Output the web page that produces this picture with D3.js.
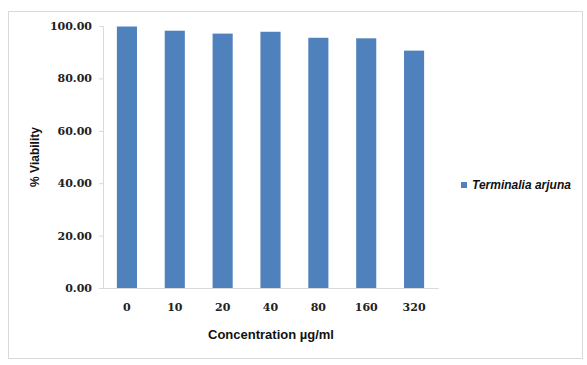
<!DOCTYPE html>
<html>
<head>
<meta charset="utf-8">
<script src="https://cdnjs.cloudflare.com/ajax/libs/d3/7.8.5/d3.min.js"></script>
<style>
  body { margin: 0; background: #fff; }
  .chart { width: 587px; height: 365px; }
  .axis path, .axis line { stroke: #d9d9d9; }
  .axis--y text, .axis--x text { font-family: "DejaVu Serif", serif; font-weight: bold; font-size: 11px; fill: #222; }
</style>
</head>
<body>
<div class="chart"></div>
<script>
// Data
var concentrations = ["0", "10", "20", "40", "80", "160", "320"];
var viability = [99.8, 98.2, 97.1, 97.8, 95.5, 95.3, 90.6];
var yTicks = [0, 20, 40, 60, 80, 100];
var seriesName = "Terminalia arjuna";

var W = 587, H = 365;
var margin = {top: 26, left: 103, right: 149, bottom: 77};
var width = W - margin.left - margin.right,
    height = H - margin.top - margin.bottom;

var svg = d3.select(".chart").append("svg")
    .attr("width", W)
    .attr("height", H);

// Outer frame
svg.append("rect")
    .attr("x", 8.5).attr("y", 11.5)
    .attr("width", 574).attr("height", 347)
    .attr("fill", "none")
    .attr("stroke", "#d9d9d9");

var g = svg.append("g")
    .attr("transform", "translate(" + margin.left + "," + margin.top + ")");

var x = d3.scaleBand()
    .domain(concentrations)
    .range([0, width])
    .paddingInner(0.58)
    .paddingOuter(0.29);

var y = d3.scaleLinear()
    .domain([0, 100])
    .range([height, 0]);

// Bars
g.selectAll(".bar")
    .data(viability)
    .enter().append("rect")
    .attr("class", "bar")
    .attr("x", function(d, i) { return x(concentrations[i]); })
    .attr("y", function(d) { return y(d); })
    .attr("width", x.bandwidth())
    .attr("height", function(d) { return height - y(d); })
    .attr("fill", "#4f81bd");

// Y axis
g.append("g")
    .attr("class", "axis axis--y")
    .call(d3.axisLeft(y)
        .tickValues(yTicks)
        .tickSize(4)
        .tickPadding(7)
        .tickFormat(d3.format(".2f")));

// X axis
g.append("g")
    .attr("class", "axis axis--x")
    .attr("transform", "translate(0," + height + ")")
    .call(d3.axisBottom(x).tickSize(0).tickPadding(15));

// Axis titles
svg.append("text")
    .attr("x", 271)
    .attr("y", 339)
    .attr("text-anchor", "middle")
    .style("font-family", "'Liberation Sans', Arial, sans-serif")
    .style("font-weight", "bold")
    .style("font-size", "13px")
    .style("fill", "#111")
    .text("Concentration µg/ml");

svg.append("text")
    .attr("transform", "translate(39,157) rotate(-90)")
    .attr("text-anchor", "middle")
    .style("font-family", "'Liberation Sans', Arial, sans-serif")
    .style("font-weight", "bold")
    .style("font-size", "12px")
    .style("fill", "#111")
    .text("% Viability");

// Legend
var legend = svg.append("g")
    .attr("transform", "translate(461,182)");
legend.append("rect")
    .attr("width", 6).attr("height", 6)
    .attr("fill", "#4f81bd");
legend.append("text")
    .attr("x", 11)
    .attr("y", 7)
    .style("font-family", "'Liberation Sans', Arial, sans-serif")
    .style("font-weight", "bold")
    .style("font-style", "italic")
    .style("font-size", "12px")
    .style("fill", "#111")
    .text(seriesName);
</script>
</body>
</html>
